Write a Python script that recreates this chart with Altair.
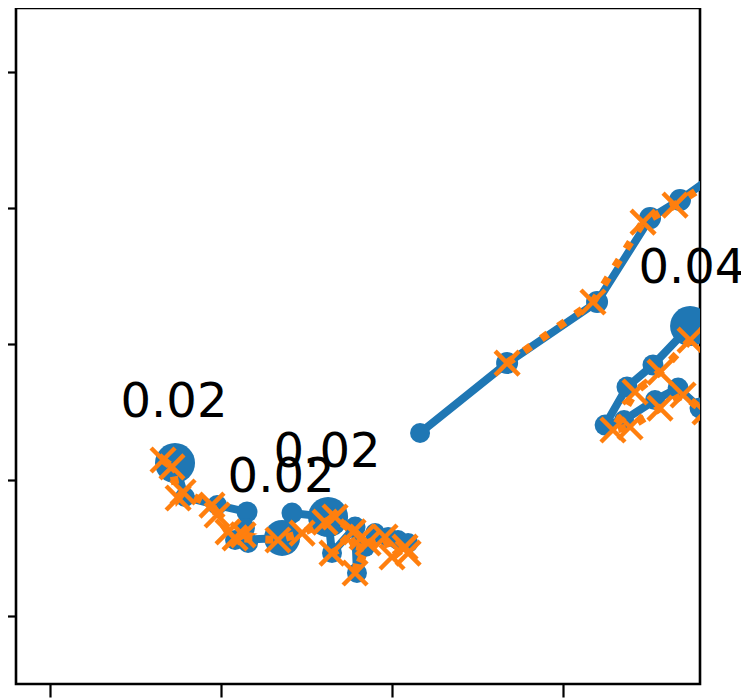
import altair as alt
import pandas as pd

# ---- data ----
blue_seg = ["A"] * 6 + ["B"] * 10 + ["C"] * 18
blue_x = [2.164, 2.673, 3.199, 3.509, 3.684, 4.035,
          4.035, 3.743, 3.526, 3.374, 3.246, 3.357, 3.538, 3.673, 3.801, 4.152,
          0.731, 0.789, 0.977, 1.152, 1.140, 1.158, 1.082, 1.357, 1.415, 1.626,
          1.649, 1.784, 1.795, 1.842, 1.901, 1.977, 2.035, 2.094]
blue_y = [1.346, 1.860, 2.309, 2.926, 3.059, 3.375,
          2.397, 2.132, 1.846, 1.684, 1.404, 1.441, 1.588, 1.676, 1.529, 1.221,
          1.125, 0.875, 0.816, 0.765, 0.647, 0.537, 0.559, 0.574, 0.757, 0.728,
          0.463, 0.654, 0.316, 0.507, 0.610, 0.581, 0.559, 0.537]
# marker diameters in the picture (px)
blue_diam = [20, 22, 22, 22, 22, 20,
             20, 40, 21, 21, 21, 20, 20, 21, 21, 20,
             40, 20, 20, 21, 20, 20, 20, 36, 21, 40,
             20, 21, 20, 20, 20, 20, 20, 20]

orange_seg = ["A"] * 5 + ["B"] * 10 + ["C"] * 22
orange_x = [2.673, 3.175, 3.468, 3.655, 4.035,
            4.035, 3.743, 3.567, 3.421, 3.292, 3.392, 3.567, 3.702, 3.830, 4.152,
            0.661, 0.713, 0.749, 0.778, 0.947, 0.977, 1.041, 1.129, 1.082, 1.333,
            1.474, 1.608, 1.667, 1.772, 1.649, 1.825, 1.784, 1.860, 1.959, 2.000,
            2.076, 2.094]
orange_y = [1.860, 2.309, 2.897, 3.022, 3.334,
            2.324, 2.029, 1.794, 1.647, 1.368, 1.390, 1.529, 1.625, 1.500, 1.221,
            1.147, 1.096, 0.868, 0.912, 0.816, 0.743, 0.618, 0.596, 0.574, 0.559,
            0.610, 0.691, 0.728, 0.618, 0.463, 0.581, 0.316, 0.537, 0.581, 0.434,
            0.507, 0.463]

label_text = ["0.02", "0.02", "0.02", "0.04"]
label_x = [0.725, 1.351, 1.620, 3.754]
label_y = [1.463, 0.912, 1.096, 2.449]

x_ticks = [0, 1, 2, 3]
y_ticks = [0, 1, 2, 3, 4]

BLUE = "#1f77b4"
ORANGE = "#ff7f0e"

blue = pd.DataFrame({"seg": blue_seg, "x": blue_x, "y": blue_y,
                     "s": [d * d for d in blue_diam],
                     "i": list(range(len(blue_x)))})
orange = pd.DataFrame({"seg": orange_seg, "x": orange_x, "y": orange_y,
                       "i": list(range(len(orange_x)))})
labels = pd.DataFrame({"t": label_text, "x": label_x, "y": label_y})

xs = alt.Scale(domain=[-0.199, 3.801], nice=False, zero=False)
ys = alt.Scale(domain=[-0.5, 4.471], nice=False, zero=False)
xax = alt.Axis(values=x_ticks, labels=False, grid=False, domain=False, ticks=True,
               tickSize=13, tickWidth=2.2, tickColor="black")
yax = alt.Axis(values=y_ticks, labels=False, grid=False, domain=False, ticks=True,
               tickSize=13, tickWidth=2.2, tickColor="black")

X = alt.X("x:Q", scale=xs, axis=xax, title=None)
Y = alt.Y("y:Q", scale=ys, axis=yax, title=None)

blue_line = alt.Chart(blue).mark_line(color=BLUE, strokeWidth=8, clip=True).encode(
    x=X, y=Y, detail="seg:N", order=alt.Order("i:Q"))
blue_pts = alt.Chart(blue).mark_point(shape="circle", filled=True, color=BLUE, opacity=1,
                                      clip=True).encode(
    x=X, y=Y, size=alt.Size("s:Q", scale=None, legend=None))
orange_line = alt.Chart(orange).mark_line(color=ORANGE, strokeWidth=8, strokeDash=[8, 13],
                                          clip=True).encode(
    x=X, y=Y, detail="seg:N", order=alt.Order("i:Q"))
orange_pts = alt.Chart(orange).mark_point(shape="M-1,-1L1,1M-1,1L1,-1", filled=False,
                                          color=ORANGE, strokeWidth=4.5, size=576,
                                          opacity=1, strokeCap="butt", clip=True).encode(
    x=X, y=Y)
text = alt.Chart(labels).mark_text(font="DejaVu Sans", fontSize=48, align="center",
                                   baseline="alphabetic", color="black").encode(
    x=X, y=Y, text="t:N")

chart = alt.layer(blue_line, blue_pts, orange_line, orange_pts, text).properties(
    width=684, height=676,
    autosize=alt.AutoSizeParams(type="none"),
    padding={"left": 8, "top": 0, "right": 41, "bottom": 20},
).configure_view(stroke="black", strokeWidth=2.6)

chart.save("out.html", embed_options={"renderer": "svg", "actions": False})
